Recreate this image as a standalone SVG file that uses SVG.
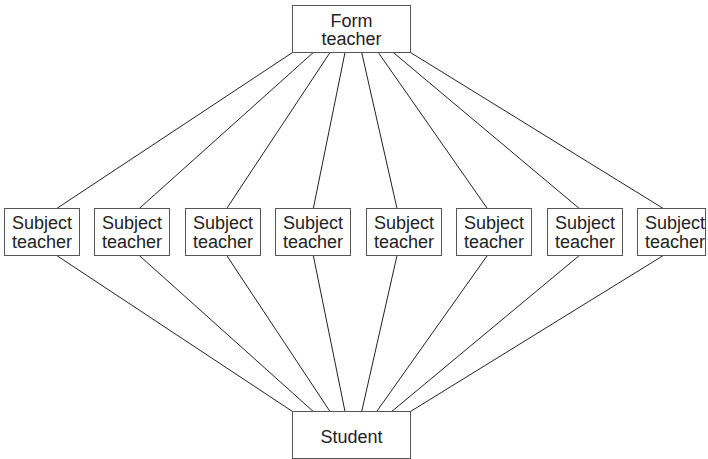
<svg xmlns="http://www.w3.org/2000/svg" width="708" height="459" viewBox="0 0 708 459">
<style>
.box{fill:#fff;stroke:#555;stroke-width:1}
.lbl{font-family:"Liberation Sans",Arial,sans-serif;font-size:18px;fill:#222;text-anchor:middle}
.con line{stroke:#222;stroke-width:1}
</style>
<rect width="708" height="459" fill="#fff"/>
<g class="con" id="connectors">
<line x1="292.5" y1="52.5" x2="56.7" y2="208.5"/>
<line x1="313.3" y1="52.5" x2="139.3" y2="208.5"/>
<line x1="330" y1="52.5" x2="226.7" y2="208.5"/>
<line x1="345" y1="52.5" x2="313.3" y2="208.5"/>
<line x1="361.7" y1="52.5" x2="397" y2="208.5"/>
<line x1="378.3" y1="52.5" x2="487.3" y2="208.5"/>
<line x1="393.3" y1="52.5" x2="579.3" y2="208.5"/>
<line x1="410.5" y1="52.5" x2="663.3" y2="208.5"/>
<line x1="56.7" y1="255.5" x2="292.5" y2="411.5"/>
<line x1="139.3" y1="255.5" x2="313.3" y2="411.5"/>
<line x1="226.7" y1="255.5" x2="330" y2="411.5"/>
<line x1="313.3" y1="255.5" x2="345" y2="411.5"/>
<line x1="397" y1="255.5" x2="361.7" y2="411.5"/>
<line x1="487.3" y1="255.5" x2="376.7" y2="411.5"/>
<line x1="579.3" y1="255.5" x2="391.7" y2="411.5"/>
<line x1="663.3" y1="255.5" x2="410.5" y2="411.5"/>
</g>
<g id="form-teacher">
<rect class="box" x="292.5" y="5.5" width="118" height="47"/>
<text class="lbl" x="351.5" y="26.7">Form</text>
<text class="lbl" x="351.5" y="45">teacher</text>
</g>
<g id="subject1"><rect class="box" x="4.5" y="208.5" width="75" height="47"/><text class="lbl" x="42" y="229.3">Subject</text><text class="lbl" x="42" y="248.3">teacher</text></g>
<g id="subject2"><rect class="box" x="94.5" y="208.5" width="75" height="47"/><text class="lbl" x="132" y="229.3">Subject</text><text class="lbl" x="132" y="248.3">teacher</text></g>
<g id="subject3"><rect class="box" x="185.5" y="208.5" width="75" height="47"/><text class="lbl" x="223" y="229.3">Subject</text><text class="lbl" x="223" y="248.3">teacher</text></g>
<g id="subject4"><rect class="box" x="275.5" y="208.5" width="75" height="47"/><text class="lbl" x="313" y="229.3">Subject</text><text class="lbl" x="313" y="248.3">teacher</text></g>
<g id="subject5"><rect class="box" x="366.5" y="208.5" width="75" height="47"/><text class="lbl" x="404" y="229.3">Subject</text><text class="lbl" x="404" y="248.3">teacher</text></g>
<g id="subject6"><rect class="box" x="456.5" y="208.5" width="75" height="47"/><text class="lbl" x="494" y="229.3">Subject</text><text class="lbl" x="494" y="248.3">teacher</text></g>
<g id="subject7"><rect class="box" x="547.5" y="208.5" width="75" height="47"/><text class="lbl" x="585" y="229.3">Subject</text><text class="lbl" x="585" y="248.3">teacher</text></g>
<g id="subject8"><rect class="box" x="637.5" y="208.5" width="68" height="47"/><text class="lbl" x="675" y="229.3">Subject</text><text class="lbl" x="675" y="248.3">teacher</text></g>
<g id="student">
<rect class="box" x="292.5" y="411.5" width="118" height="47"/>
<text class="lbl" x="351.5" y="442.7">Student</text>
</g>
</svg>
